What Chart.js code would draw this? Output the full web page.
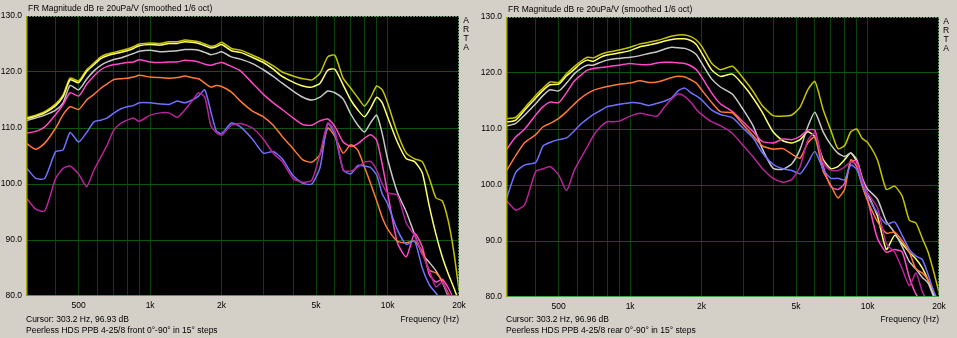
<!DOCTYPE html>
<html><head><meta charset="utf-8">
<script src="https://cdn.jsdelivr.net/npm/chart.js@4/dist/chart.umd.min.js"></script>
<style>
html,body{margin:0;padding:0;background:#d4d0c8;width:957px;height:338px;overflow:hidden;font-family:"Liberation Sans",Arial,sans-serif;}
canvas{position:absolute;top:0;}
.t{position:absolute;font-size:8.5px;color:#000;white-space:nowrap;line-height:10px;}
.arta{position:absolute;font-size:8.5px;line-height:9px;width:8px;text-align:center;color:#000;}
</style></head><body>
<canvas id="cf" width="478" height="338" style="left:0"></canvas>
<canvas id="cr" width="477" height="338" style="left:480px"></canvas>

<div class="t" style="left:28px;top:3px">FR Magnitude dB re 20uPa/V (smoothed 1/6 oct)</div>
<div class="t" style="left:508px;top:4px">FR Magnitude dB re 20uPa/V (smoothed 1/6 oct)</div>
<div class="arta" style="left:462px;top:16px">A<br>R<br>T<br>A</div>
<div class="arta" style="left:942px;top:17px">A<br>R<br>T<br>A</div>
<div class="t" style="left:26px;top:314px">Cursor: 303.2 Hz, 96.93 dB</div>
<div class="t" style="left:26px;top:325px">Peerless HDS PPB 4-25/8 front 0°-90° in 15° steps</div>
<div class="t" style="left:506px;top:314px">Cursor: 303.2 Hz, 96.96 dB</div>
<div class="t" style="left:506px;top:325px">Peerless HDS PPB 4-25/8 rear 0°-90° in 15° steps</div>
<div class="t" style="right:498px;top:314px">Frequency (Hz)</div>
<div class="t" style="right:18px;top:314px">Frequency (Hz)</div>

<script>
const freqs = [300,330,360,400,430,460,500,540,580,620,660,700,750,800,850,900,
  1000,1100,1200,1300,1400,1500,1600,1700,1800,1900,2000,2200,2400,2700,
  3000,3300,3600,4000,4400,4800,5200,5600,6000,6500,7000,7500,8000,8500,9000,9500,10000,
  11000,12000,13000,14000,15000,16000,17000,18000,19000,20000];

const angleLabels = ['0°','15°','30°','45°','60°','75°','90°'];
const xTickValues = [300,400,500,600,700,800,900,1000,2000,3000,4000,5000,6000,7000,8000,9000,10000,20000];
const xTickLabels = {500:'500',1000:'1k',2000:'2k',5000:'5k',10000:'10k',20000:'20k'};

// front measurements (dB)
const front0 = [111.8,112.3,112.9,114.3,115.9,118.9,118.4,120.4,121.6,122.7,123.2,123.5,123.8,124.1,124.5,125.0,
  125.2,125.1,125.4,125.4,125.7,125.6,125.4,125.0,124.6,124.8,125.3,124.2,123.9,123.0,
  122.1,121.1,120.0,119.3,118.8,118.6,119.8,122.7,123.0,118.9,117.1,115.4,113.9,115.5,117.5,116.8,114.5,
  109.1,105.5,104.5,104.0,101.0,97.5,97.0,93.5,88.0,81.0];
const front15 = [111.6,112.1,112.7,114.0,115.6,118.6,118.1,120.1,121.3,122.4,122.9,123.2,123.5,123.8,124.2,124.7,
  124.9,124.8,125.1,125.1,125.4,125.3,125.1,124.7,124.3,124.5,124.9,123.8,123.5,122.6,
  121.7,120.5,119.2,118.2,117.5,117.3,118.0,120.3,120.5,117.7,115.0,113.2,112.0,113.6,115.5,114.5,112.0,
  107.5,104.5,104.0,102.0,96.0,91.0,87.0,84.0,81.5,79.0];
const front30 = [111.3,111.8,112.3,113.2,114.5,117.6,116.8,118.7,120.2,121.2,121.8,122.2,122.5,122.9,123.3,123.7,
  123.9,123.6,123.7,123.8,124.0,124.0,123.9,123.5,123.1,123.3,123.6,122.7,122.3,121.5,
  120.4,119.2,118.0,116.6,115.5,115.0,115.5,116.6,116.3,115.2,112.5,110.5,109.3,111.0,112.3,109.0,104.5,
  98.5,95.0,91.0,87.5,86.0,84.5,82.5,80.0,78.0,77.0];
const front45 = [109.1,109.4,110.2,112.4,114.2,116.3,115.7,117.8,119.3,120.4,121.0,121.3,121.5,121.7,121.8,122.2,
  121.8,121.7,121.8,121.8,122.1,122.0,121.8,121.4,121.2,121.5,121.7,121.0,120.2,118.0,
  116.0,114.5,113.3,111.8,110.6,110.5,111.3,111.6,110.3,107.5,106.7,107.2,108.2,108.8,107.8,103.5,98.5,
  89.5,87.0,91.2,88.8,83.8,82.5,83.0,81.5,79.5,78.0];
const front60 = [107.3,106.2,107.3,110.0,112.4,113.8,113.3,115.0,116.0,117.1,117.9,118.6,118.8,118.9,119.1,119.4,
  119.1,119.0,118.9,119.0,119.3,119.0,118.8,118.0,117.3,117.6,117.4,116.4,114.8,113.0,
  112.0,110.5,108.5,106.3,104.3,103.9,105.3,110.0,108.5,105.5,107.0,106.0,103.0,100.0,97.0,94.0,92.0,
  89.8,89.5,89.8,88.0,84.6,84.1,82.7,80.5,78.5,77.0];
const front75 = [103.0,101.0,101.0,105.8,106.1,109.2,107.5,109.2,111.1,111.4,111.8,112.6,113.4,113.8,114.0,114.5,
  114.5,114.3,114.2,114.8,114.5,115.0,115.7,116.8,113.0,109.5,109.0,110.9,110.2,108.0,
  105.5,105.8,104.5,101.5,100.1,100.0,103.0,110.8,108.8,102.5,101.8,103.3,103.2,102.9,101.6,98.2,96.5,
  91.8,89.2,89.8,85.0,82.0,80.5,79.0,78.0,77.0,76.0];
const front90 = [97.6,95.5,95.2,101.0,102.8,103.2,101.8,99.5,102.5,104.8,107.0,109.5,110.8,111.4,111.8,111.2,
  112.3,112.7,112.7,111.9,113.2,114.8,116.3,115.5,110.5,109.2,108.7,110.5,110.8,110.0,
  108.0,105.5,104.0,101.0,100.3,100.7,105.5,110.9,109.5,102.5,102.3,103.0,103.9,104.0,102.5,100.0,98.4,
  98.0,93.0,90.8,87.5,84.5,81.6,82.5,80.3,78.0,77.0];

// rear measurements (dB)
const rear0 = [111.8,112.1,113.8,116.0,117.3,118.4,118.3,119.9,121.1,122.1,122.8,122.7,123.3,123.7,123.9,124.1,
  124.6,125.2,125.5,125.8,126.2,126.6,126.8,126.8,126.5,125.9,124.8,121.8,120.6,121.2,
  119.0,116.7,114.2,112.4,112.3,112.5,113.9,117.0,118.5,113.5,109.8,106.5,107.0,109.5,110.0,108.3,107.6,
  104.5,99.2,99.8,98.0,93.7,93.2,90.5,88.0,84.5,80.8];
const rear15 = [111.2,111.6,113.4,115.5,116.9,117.9,118.0,119.5,120.6,121.7,122.3,122.1,122.8,123.2,123.4,123.6,
  124.0,124.7,125.0,125.3,125.7,126.0,126.1,126.1,125.8,125.1,123.6,120.6,119.4,119.8,
  117.8,115.5,113.0,109.5,107.9,107.5,108.1,109.5,108.6,104.6,102.9,103.3,104.5,105.7,104.2,100.9,98.5,
  94.5,88.5,91.0,89.5,88.0,86.8,85.2,83.0,80.5,79.0];
const rear30 = [110.5,111.0,112.5,114.5,116.0,117.0,116.8,118.2,119.8,120.8,121.4,121.4,121.9,122.3,122.5,122.6,
  122.8,123.1,123.5,123.8,124.3,124.6,124.5,124.4,124.0,123.3,121.8,119.0,117.5,116.2,
  113.4,110.5,106.5,103.0,102.8,103.8,106.4,110.4,113.0,109.5,107.2,105.7,105.1,105.7,104.6,101.3,99.3,
  97.5,93.5,91.5,89.0,86.3,85.0,83.5,82.5,80.0,78.0];
const rear45 = [106.2,108.6,110.0,112.5,114.0,114.8,114.7,116.5,118.5,119.6,120.5,120.8,121.0,121.1,121.3,121.4,
  121.7,121.5,121.5,121.8,121.9,121.9,121.8,121.7,121.3,120.6,119.3,116.5,114.5,113.1,
  111.2,109.5,107.8,107.5,108.2,108.1,108.7,109.8,109.8,103.5,99.7,99.2,100.3,104.1,104.3,101.0,97.5,
  90.5,88.0,88.5,88.0,83.5,80.5,79.0,78.0,77.0,76.0];
const rear60 = [102.4,105.3,107.6,109.0,110.4,111.0,111.9,113.1,114.4,115.5,116.3,116.9,117.3,117.6,117.8,118.0,
  118.2,118.6,118.3,118.4,118.8,119.2,119.4,119.3,118.8,118.2,117.0,114.8,113.1,112.9,
  110.7,108.8,107.0,106.4,106.5,105.5,104.8,107.5,108.6,102.5,100.0,97.7,99.2,104.5,103.3,99.8,97.2,
  93.5,91.4,91.6,90.0,88.0,85.0,84.3,83.0,81.0,78.0];
const rear75 = [97.3,102.3,103.6,104.0,107.0,107.6,108.1,108.4,109.6,110.9,111.8,112.6,113.3,114.0,114.2,114.4,
  114.7,114.6,114.2,114.6,115.0,115.6,116.9,117.3,116.5,115.9,115.2,113.4,112.6,112.0,
  110.1,108.4,105.8,103.7,102.9,102.6,102.0,103.9,106.0,102.8,101.2,101.2,100.9,103.6,102.8,100.2,98.0,
  95.0,93.0,93.4,91.0,88.5,87.3,86.7,84.0,81.0,79.0];
const rear90 = [97.3,95.5,96.5,102.4,102.9,103.3,101.8,99.0,102.5,104.8,106.8,108.8,110.4,111.3,111.3,111.4,
  112.3,112.8,112.5,112.3,114.0,115.4,116.3,115.8,114.8,113.5,112.6,111.3,110.6,109.2,
  107.0,105.0,103.0,101.2,100.5,101.0,103.3,108.0,109.3,104.0,102.6,102.6,103.2,104.1,103.8,100.8,98.6,
  96.0,89.5,88.0,85.0,82.0,84.3,81.0,79.0,78.0,77.0];

const colors = ['#c4c400','#ffff70','#c8c8c8','#ff48c8','#ff7838','#7070ff','#b8249a'];
const FONT = {family:'"Liberation Sans", Arial, sans-serif', size:8.5};

const framePlugin = {
  id:'frame',
  beforeDraw(c){const a=c.chartArea,x=c.ctx;x.save();x.fillStyle='#000';
    x.fillRect(a.left,a.top,a.right-a.left,a.bottom-a.top);x.restore();},
  afterDraw(c){const a=c.chartArea,x=c.ctx;x.save();x.lineWidth=1;
    x.setLineDash([2,1]);x.strokeStyle='#5f8f5f';x.beginPath();
    x.moveTo(a.left,a.top+0.5);x.lineTo(a.right,a.top+0.5);
    x.moveTo(a.right-0.5,a.top);x.lineTo(a.right-0.5,a.bottom);x.stroke();
    x.setLineDash([]);x.strokeStyle='#46a046';x.beginPath();
    x.moveTo(a.left,a.bottom-0.5);x.lineTo(a.right,a.bottom-0.5);x.stroke();
    x.strokeStyle='#a6a600';x.lineWidth=1.5;x.beginPath();
    x.moveTo(a.left+0.75,a.top);x.lineTo(a.left+0.75,a.bottom);x.stroke();
    x.restore();}
};

function makeChart(id, series, padTop, padRight, xAxisH){
  const datasets = series.map((s,i)=>({
    label: angleLabels[i],
    data: freqs.map((f,j)=>({x:f,y:s[j]})),
    borderColor: colors[i], borderWidth:1.5, pointRadius:0, tension:0.2, fill:false
  })).reverse();
  return new Chart(document.getElementById(id), {
    type:'line',
    data:{datasets},
    options:{
      responsive:false, animation:false,
      layout:{padding:{top:padTop,right:padRight,left:0,bottom:0}},
      plugins:{legend:{display:false},tooltip:{enabled:false}},
      scales:{
        x:{type:'logarithmic',min:300,max:20000,
          afterFit(s){s.height=xAxisH;},
          afterBuildTicks(s){s.ticks=xTickValues.map(v=>({value:v}));},
          ticks:{autoSkip:false,maxRotation:0,minRotation:0,padding:5,color:'#000',font:FONT,
            callback:(v)=>xTickLabels[v]||''},
          grid:{drawTicks:false,lineWidth:1,
            color:(ctx)=>{const v=ctx.tick&&ctx.tick.value;return (v>300&&v<20000)?'#0b420b':'rgba(0,0,0,0)';}},
          border:{display:false}},
        y:{min:80,max:130,
          afterFit(s){s.width=26;},
          ticks:{stepSize:10,padding:4,color:'#000',font:FONT,callback:(v)=>Number(v).toFixed(1)},
          grid:{drawTicks:false,lineWidth:1,
            color:(ctx)=>{const v=ctx.tick&&ctx.tick.value;return (v>80&&v<130)?'#0f560f':'rgba(0,0,0,0)';}},
          border:{display:false}}
      }
    },
    plugins:[framePlugin]
  });
}

makeChart('cf',[front0,front15,front30,front45,front60,front75,front90],16,19,42);
makeChart('cr',[rear0,rear15,rear30,rear45,rear60,rear75,rear90],17,18,41);
</script>
</body></html>
